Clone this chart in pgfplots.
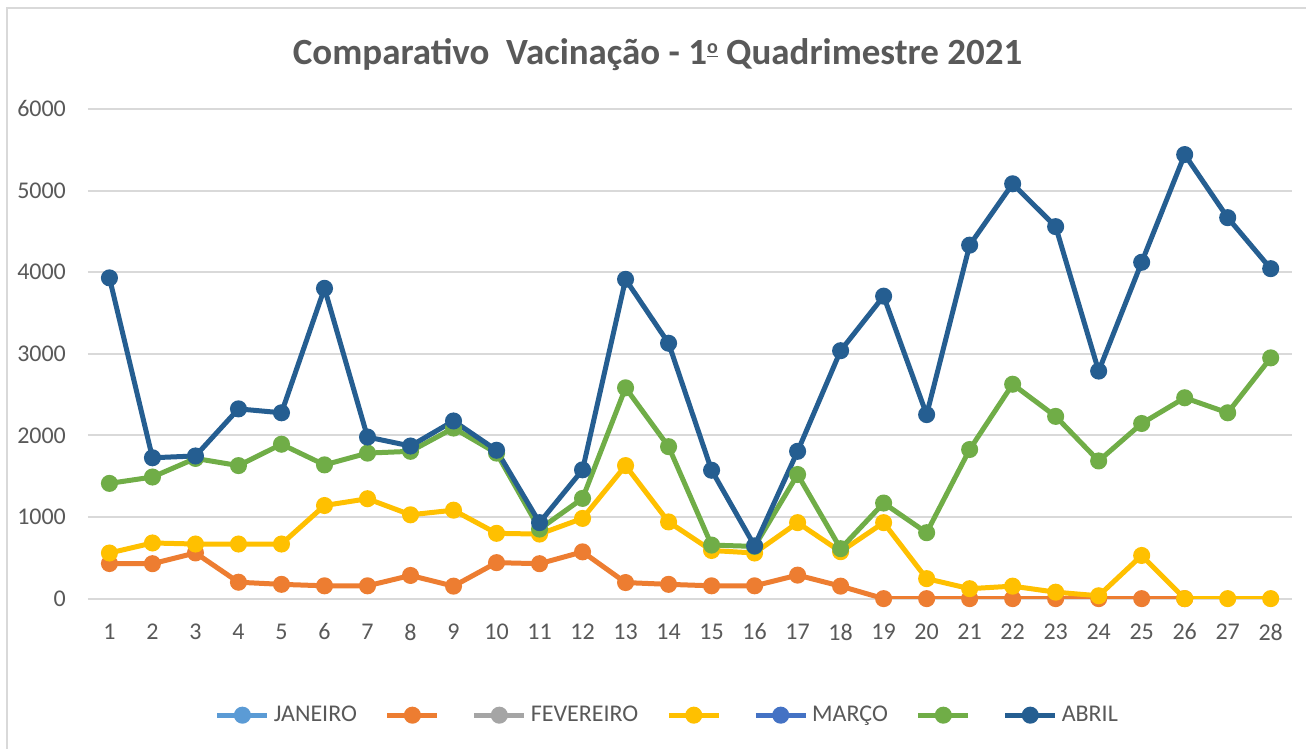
\documentclass[border=0pt]{standalone}
\usepackage{pgfplots}
\pgfplotsset{compat=1.18}
\usepackage{fontspec}
\setmainfont{Carlito}
\definecolor{txtgray}{HTML}{595959}
\definecolor{gridgray}{HTML}{D9D9D9}
\definecolor{framegray}{HTML}{D9D9D9}
\definecolor{cjan}{HTML}{5B9BD5}
\definecolor{cora}{HTML}{ED7D31}
\definecolor{cfev}{HTML}{A5A5A5}
\definecolor{cyel}{HTML}{FFC000}
\definecolor{cmar}{HTML}{4472C4}
\definecolor{cgre}{HTML}{70AD47}
\definecolor{cabr}{HTML}{255E91}
\newcommand{\ordo}{\raisebox{0.62ex}{\fontsize{10}{10}\selectfont\underline{o}}}
\begin{document}
\begin{tikzpicture}
\fill[white] (0pt,0pt) rectangle (653.5pt,374.5pt);
\draw[framegray,line width=0.8pt] (3.5pt,0pt) -- (3.5pt,370.5pt) -- (653.5pt,370.5pt);
\node[text=txtgray,font=\fontsize{18.5}{22}\selectfont\bfseries] at (329pt,347pt) {Comparativo\ \ Vacinação - 1\ordo\ Quadrimestre 2021};
\begin{axis}[
  at={(44pt,75pt)}, anchor=south west,
  scale only axis, width=602.5pt, height=245pt,
  xmin=0.5, xmax=28.5, ymin=0, ymax=6000,
  xtick={1,2,...,28}, ytick={0,1000,...,6000},
  axis line style={draw=none},
  major tick length=0pt,
  ymajorgrids, grid style={gridgray,line width=1pt},
  /pgf/number format/assume math mode=true,
  /pgf/number format/1000 sep={},
  tick label style={text=txtgray,font=\fontsize{12}{14}\selectfont},
  yticklabel style={xshift=-7.5pt},
  xticklabel style={yshift=-9pt},
  every axis plot/.append style={line width=2.5pt, mark=*, mark size=3pt},
  legend columns=7,
  legend style={at={(0.482,-0.238)}, anchor=center, draw=none, fill=none,
    font=\fontsize{12}{14}\selectfont, text=txtgray,
    /tikz/every even column/.append style={column sep=12pt}},
  legend image code/.code={\draw[mark repeat=2,mark phase=2,#1] plot coordinates {(0pt,0pt) (12.5pt,0pt) (25pt,0pt)};},
]
\addlegendimage{cjan, line width=2.5pt, mark=*, mark size=3pt}
\addlegendentry{JANEIRO}
\addplot[cora] coordinates {
(1,430) (2,428) (3,560) (4,201) (5,175) (6,157) (7,157) (8,284) (9,153) (10,441)
(11,428) (12,573) (13,197) (14,175) (15,157) (16,157) (17,288) (18,153) (19,0) (20,0)
(21,0) (22,0) (23,0) (24,0) (25,0) (26,0)};
\addlegendentry{}
\addlegendimage{cfev, line width=2.5pt, mark=*, mark size=3pt}
\addlegendentry{FEVEREIRO}
\addplot[cyel] coordinates {
(1,559) (2,682) (3,669) (4,669) (5,669) (6,1141) (7,1224) (8,1027) (9,1084) (10,800)
(11,791) (12,983) (13,1630) (14,940) (15,590) (16,559) (17,931) (18,575) (19,931) (20,245)
(21,122) (22,153) (23,79) (24,35) (25,529) (26,0) (27,0) (28,0)};
\addlegendentry{}
\addlegendimage{cmar, line width=2.5pt, mark=*, mark size=3pt}
\addlegendentry{MARÇO}
\addplot[cgre] coordinates {
(1,1412) (2,1490) (3,1718) (4,1630) (5,1892) (6,1639) (7,1783) (8,1805) (9,2090) (10,1783)
(11,852) (12,1228) (13,2583) (14,1862) (15,656) (16,640) (17,1521) (18,612) (19,1171) (20,808)
(21,1827) (22,2627) (23,2233) (24,1687) (25,2146) (26,2461) (27,2277) (28,2950)};
\addlegendentry{}
\addplot[cabr] coordinates {
(1,3930) (2,1726) (3,1748) (4,2325) (5,2277) (6,3802) (7,1980) (8,1870) (9,2177) (10,1818)
(11,931) (12,1578) (13,3912) (14,3129) (15,1573) (16,647) (17,1805) (18,3038) (19,3706) (20,2255)
(21,4331) (22,5083) (23,4558) (24,2788) (25,4121) (26,5441) (27,4668) (28,4043)};
\addlegendentry{ABRIL}
\end{axis}
\end{tikzpicture}
\end{document}
